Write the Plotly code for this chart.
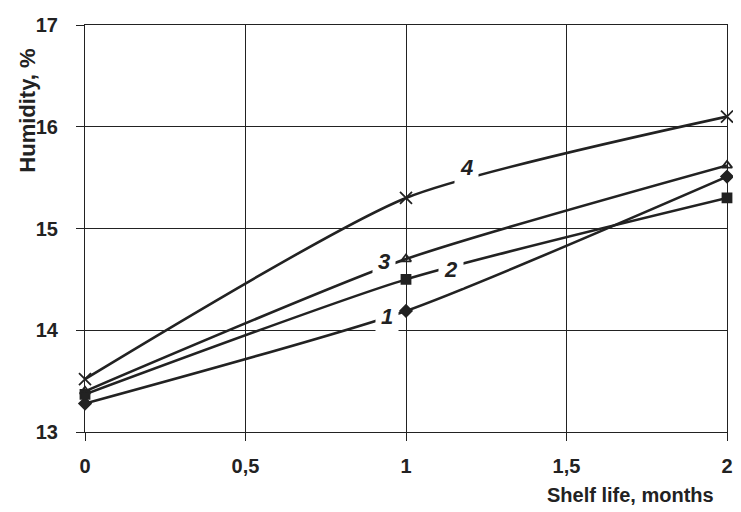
import plotly.graph_objects as go

months = [0, 1, 2]
s1 = [13.28, 14.19, 15.51]
s2 = [13.37, 14.50, 15.30]
s3 = [13.40, 14.70, 15.62]
s4 = [13.52, 15.30, 16.10]
series_names = ["1", "2", "3", "4"]
series_values = [s1, s2, s3, s4]
marker_symbols = ["diamond", "square", "triangle-up-open", "x-thin-open"]

label_x = [0.94, 1.14, 0.93, 1.19]
label_y = [14.14, 14.6, 14.68, 15.6]

x_ticks = [0, 0.5, 1, 1.5, 2]
x_ticktext = ["0", "0,5", "1", "1,5", "2"]
y_ticks = [13, 14, 15, 16, 17]

FONT = "Liberation Sans, Arial"
INK = "#222222"

fig = go.Figure()
for name, vals, sym in zip(series_names, series_values, marker_symbols):
    fig.add_trace(go.Scatter(
        x=months, y=vals, name=name, mode="lines+markers",
        line=dict(color=INK, width=2.6, shape="spline", smoothing=0.6),
        marker=dict(symbol=sym, size=9 if sym != "x-thin-open" else 12,
                    color=INK, line=dict(color=INK, width=1.8)),
        cliponaxis=False, showlegend=False,
    ))

for name, lx, ly in zip(series_names, label_x, label_y):
    fig.add_annotation(x=lx, y=ly, text="<i><b>" + name + "</b></i>", showarrow=False,
                       font=dict(family=FONT, size=22, color=INK),
                       bgcolor="white", borderpad=5)

fig.add_annotation(xref="paper", yref="paper", x=0.85, y=-0.155, xanchor="center", yanchor="middle",
                   text="<b>Shelf life, months</b>",
                   showarrow=False, font=dict(family=FONT, size=20, color=INK))
fig.add_annotation(xref="paper", yref="paper", x=-0.09, y=0.79, xanchor="center", yanchor="middle",
                   text="<b>Humidity, %</b>", textangle=-90,
                   showarrow=False, font=dict(family=FONT, size=22, color=INK))

fig.update_xaxes(range=[0, 2], tickvals=x_ticks, ticktext=x_ticktext, automargin=False,
                 showgrid=True, gridcolor=INK, gridwidth=1,
                 showline=True, linecolor=INK, linewidth=1.2, mirror=True,
                 ticks="outside", ticklen=8, tickcolor=INK, zeroline=False, ticklabelstandoff=8,
                 ticklabeloverflow="allow",
                 tickfont=dict(family=FONT, size=20, color=INK, weight="bold"))
fig.update_yaxes(range=[13, 17], tickvals=y_ticks, automargin=False,
                 showgrid=True, gridcolor=INK, gridwidth=1,
                 showline=True, linecolor=INK, linewidth=1.2, mirror=True,
                 ticks="outside", ticklen=8, tickcolor=INK, zeroline=False, ticklabelstandoff=14,
                 tickfont=dict(family=FONT, size=20, color=INK, weight="bold"))

# figure sized to fit the page's default 8px body margin inside the 741x512 window
fig.update_layout(width=733, height=504, margin=dict(l=77, r=14, t=17, b=80),
                  plot_bgcolor="white", paper_bgcolor="white",
                  font=dict(family=FONT, color=INK))
fig.write_html("out.html")
